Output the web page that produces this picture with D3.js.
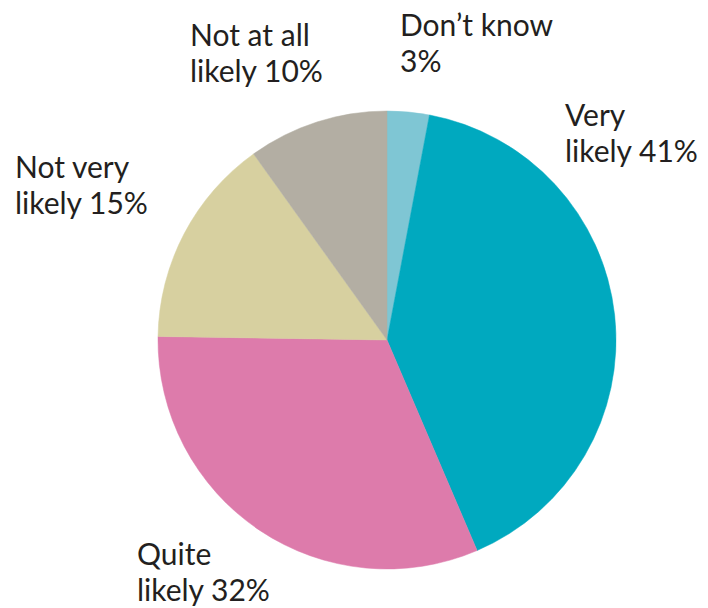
<!DOCTYPE html>
<html>
<head>
<meta charset="utf-8">
<script src="https://cdn.jsdelivr.net/npm/d3@7"></script>
<style>
  body { margin: 0; background: #fff; }
  svg text { font-family: Lato, "DejaVu Sans", sans-serif; fill: #231f20; }
</style>
</head>
<body>
<div id="vis"></div>
<script>
// data, clockwise from 12 o'clock
var categories = ["Don\u2019t know", "Very likely", "Quite likely", "Not very likely", "Not at all likely"];
var values = [3, 41, 32, 15, 10];
// label text lines
var labelLines = [
  ["Don\u2019t know", "3%"],
  ["Very", "likely 41%"],
  ["Quite", "likely 32%"],
  ["Not very", "likely 15%"],
  ["Not at all", "likely 10%"]
];

var width = 708, height = 608;
var cx = 387, cy = 340, radius = 229;
var colors = ["#7fc6d4", "#00a9bf", "#dd7bab", "#d7d0a0", "#b3aea3"];
// where each label block starts (left x, first baseline y)
var labelPos = [[400, 36], [565, 126], [137, 565], [15, 178], [190, 46]];
var lineGap = 36;

var svg = d3.select("#vis").append("svg")
    .attr("width", width)
    .attr("height", height);

var rows = categories.map(function(c, i){ return {name: c, value: values[i], idx: i}; });

var pie = d3.pie()
    .sort(null)
    .value(function(d){ return d.value; });

var arc = d3.arc()
    .innerRadius(0)
    .outerRadius(radius);

var g = svg.append("g").attr("transform", "translate(" + cx + "," + cy + ")");

g.selectAll("path")
    .data(pie(rows))
    .enter()
    .append("path")
    .attr("d", arc)
    .attr("fill", function(d){ return colors[d.data.idx]; })
    .attr("stroke", function(d){ return colors[d.data.idx]; })
    .attr("stroke-width", 0.5);

// labels
var labels = svg.append("g").selectAll("text")
    .data(rows)
    .enter()
    .append("text")
    .attr("x", function(d){ return labelPos[d.idx][0]; })
    .attr("y", function(d){ return labelPos[d.idx][1]; })
    .style("font-size", "30px");

labels.selectAll("tspan")
    .data(function(d){ return labelLines[d.idx].map(function(t, k){ return {t: t, k: k, idx: d.idx}; }); })
    .enter()
    .append("tspan")
    .attr("x", function(d){ return labelPos[d.idx][0]; })
    .attr("dy", function(d){ return d.k === 0 ? 0 : lineGap; })
    .text(function(d){ return d.t; });
</script>
</body>
</html>
